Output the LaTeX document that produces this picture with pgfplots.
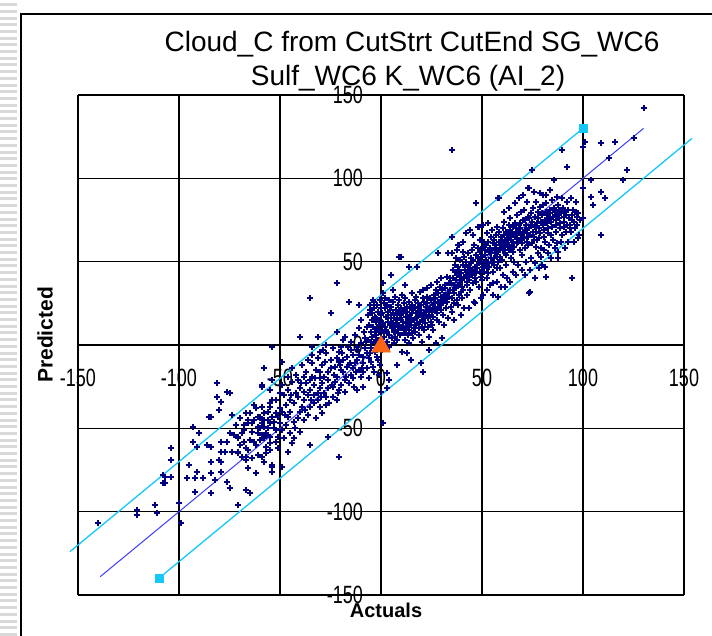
\documentclass[border=0pt]{standalone}
\usepackage{pgfplots}
\pgfplotsset{compat=1.18}
\usepackage{fontspec}
\setmainfont{Liberation Sans}
\newfontfamily\tickfont[FakeStretch=0.72]{Liberation Sans}
\definecolor{navy}{RGB}{0,0,128}
\definecolor{lineblue}{RGB}{60,60,255}
\definecolor{cyanl}{RGB}{20,200,250}
\definecolor{orng}{RGB}{250,100,20}
\begin{document}
\begin{tikzpicture}
\useasboundingbox (0,0) rectangle (712pt,636pt);
\fill[white] (0,0) rectangle (712pt,636pt);
\foreach \i in {0,...,95} {\fill[black!15] (0,\i*6.7pt) rectangle (17pt,\i*6.7pt+3pt);}
\draw[line width=1.2pt] (21pt,0) -- (21pt,622pt) -- (712pt,622pt);
\begin{axis}[
  at={(78pt,41pt)}, anchor=south west,
  scale only axis, width=606pt, height=500pt,
  xmin=-150,xmax=150,ymin=-150,ymax=150,
  axis lines=middle, axis line style={-, black, line width=1.6pt},
  xtick={-150,-100,-50,0,50,100,150}, ytick={-150,-100,-50,0,50,100,150},
  xticklabels={-150,-100,-50,0,50,100,150},
  yticklabels={-150,-100,-50,0,50,100,150},
  hide obscured x ticks=false, hide obscured y ticks=false,
  major tick length=0pt,
  grid=major, major grid style={black, line width=1.6pt},
  ticklabel style={font=\tickfont\fontsize{25pt}{25pt}\selectfont, inner sep=0pt},
  xticklabel style={anchor=center, yshift=-33pt},
  yticklabel style={anchor=east, xshift=-18pt},
  clip=false,
]
\addplot[only marks, mark=+, mark size=3pt, color=navy, mark options={line width=2pt}] coordinates {
(-140,-107)(-121,-102)(-121,-99)(-112,-96)(-111,-101)(-100,-95)(-99,-107)(-104,-62)(-104,-69)(-107,-79)(-104,-79)(-107,-83)(-93,-49)(-90,-53)(-93,-58)(-91,-61)(-95,-72)(-96,-80)(-92,-80)(-91,-76)(-92,-88)(-88,-80)(-86,-60)(-84,-61)(-84,-70)(-84,-77)(-84,-89)(-82,-81)(-84,-43)(-81,-23)(-81,-31)(-79,-34)(-80,-39)(-76,-28)(-75,-29)(-79,-58)(-79,-64)(-77,-64)(-80,-69)(-79,-70)(-79,-76)(-76,-58)(-74,-64)(-76,-82)(-75,-86)(-75,-53)(-73,-54)(-71,-55)(-71,-56)(-69,-53)(-71,-96)(-67,-62)(-67,-69)(-66,-74)(-67,-87)(-65,-89)(-67,-41)(-65,-41)(-66,-45)(-64,-47)(-64,-52)(-63,-58)(-61,-43)(-59,-47)(-60,-50)(-59,-67)(-58,-70)(-54,-72)(-54,-76)(-57,-53)(-57,-54)(-55,-55)(-55,-47)(-54,-43)(-59,-37)(-55,-35)(-59,-25)(-55,-27)(-52,-33)(-52,-51)(-52,-58)(-58,-41)(-71,-64)(-69,-67)(-85,-43)(-108,-78)(-108,-83)
(-62,-38)(-60,-44)(-56,-40)(-53,-46)(-58,-56)(-61,-49)(-68,-48)(-70,-44)(-63,-36)(-57,-61)
(-22,37)(-35,28)(-16,26)(-11,24)(-25,19)(-4,27)(1,37)(1,31)(-40,5)(-31,5)(-22,8)(-18,5)(-27,0)(-54,-1)(-34,-1)(-30,-4)(-34,-6)(-36,-9)(-21,-4)(-22,-8)(-19,-9)(-14,-6)(-16,-12)(-12,-9)(-7,-5)(-9,-7)(-3,-4)(-5,-10)(-11,-15)(3,-17)(4,-21)(3,-26)(0,-28)(1,-47)(-21,-67)(-26,-55)(-35,-60)(-40,-52)(-41,-44)(-49,-10)(-58,-14)(-59,-24)(-49,-24)(-44,-14)(-41,-21)(-38,-19)(-34,-19)(-30,-16)(-30,-20)(-29,-23)(-25,-14)(-26,-21)(-24,-25)(-22,-19)(-20,-15)(-18,-21)(-15,-18)(-14,-14)(-9,-16)(-9,-25)(-35,-27)(-33,-30)(-31,-29)(-38,-28)(-42,-29)(-39,-37)(-35,-37)(-31,-33)(-27,-31)(-21,-27)(-29,-41)(-45,-33)(-50,-38)(-49,-40)(-51,-43)(-46,-43)(-54,-33)(-55,-37)(-56,-45)(-60,-43)(-58,-49)(-61,-53)(-66,-47)(-68,-51)(-71,-55)(-65,-57)(-59,-54)(-51,-55)(-49,-51)(-55,-63)(-58,-70)(-62,-77)(-71,-65)(-67,-67)(-46,-64)(-49,-73)(-54,-73)(-59,-25)(-54,-21)
(-48,-30)(-47,-36)(-46,-27)(-45,-40)(-44,-22)(-43,-35)(-43,-46)(-42,-18)(-41,-31)(-40,-40)(-40,-26)(-39,-12)(-38,-33)(-38,-45)(-37,-23)(-37,-16)(-36,-30)(-36,-42)(-35,-21)(-34,-11)(-33,-35)(-33,-24)(-32,-15)(-32,-44)(-31,-8)(-30,-26)(-30,-37)(-29,-12)(-28,-19)(-28,-29)(-27,-5)(-27,-36)(-26,-16)(-26,-26)(-25,-9)(-24,-31)(-24,-2)(-23,-13)(-23,-22)(-22,-33)(-21,-10)(-20,-1)(-20,-24)(-19,-16)(-19,3)(-18,-28)(-17,-7)(-17,-13)(-16,-23)(-15,-3)(-15,2)(-14,-20)(-13,-11)(-13,6)(-12,-27)(-12,-1)(-11,-6)(-11,10)(-10,-19)(-10,1)(-10,15)(-9,-11)(-8,4)(-8,-2)(-7,-14)(-7,11)(-6,-8)(-6,-20)(-5,2)(-4,-13)(-3,8)(-2,-7)(-1,-18)
(-47.5,-42)(-44.5,-30)(-42.5,-50)(-39.5,-23)(-37.5,-39)(-34.5,-33)(-32.5,-20)(-29.5,-31)(-27.5,-10)(-25.5,-35)(-23.5,-18)(-21.5,-29)(-19.5,-5)(-17.5,-19)(-15.5,-11)(-13.5,-25)(-11.5,-3)(-9.5,-14)(-7.5,2)(-5.5,-5)(-3.5,-16)(-2.5,3)(-1.5,-9)(-0.5,-12)(-8.5,8)(-12.5,-16)(-16.5,-1)(-20.5,-12)(-24.5,-24)(-28.5,-3)
(-74,-42)(-72,-48)(-70,-60)(-68,-58)(-66,-63)(-64,-68)(-63,-45)(-62,-60)(-61,-66)(-60,-57)(-58,-45)(-57,-65)(-56,-50)(-55,-59)(-53,-50)(-52,-41)(-51,-62)(-50,-47)(-50,-29)(-48,-56)(-47,-48)(-46,-19)(-45,-53)(-44,-59)(-43,-56)
(-6.2,3)(-5.8,12)(-6.5,18)(-5.6,24)(-5.1,8)(-4.7,15)(-5.4,21)(-4.9,-2)(-4.3,5)(-3.8,11)(-4.6,19)(-3.6,26)(-3.2,1)(-2.7,14)(-3.5,22)(-2.9,17)(-2.4,6)(-1.8,10)(-2.1,24)(-1.6,3)(-2.6,16)(-1.2,12)(-0.7,2)(-1.4,20)(-0.9,8)(-0.5,27)
(0.2,4)(-0.3,15)(0.6,9)(0.1,22)(0.4,-3)(-0.2,18)(1.3,7)(0.8,13)(1.5,25)(1.1,0)(0.7,19)(2.2,11)(1.7,5)(2.6,17)(1.9,28)(2.4,9)(2.0,22)(3.3,14)(2.8,2)(3.6,20)(3.1,8)(2.9,24)(4.1,6)(3.7,16)(4.5,12)(4.2,27)(3.9,-1)(4.6,21)(5.2,10)(4.8,18)(5.5,4)(5.1,23)(4.9,14)(6.3,8)(5.7,13)(6.1,26)(6.6,1)(5.9,19)(6.4,16)(7.2,15)(6.8,5)(7.5,21)(7.1,11)(6.9,29)(8.4,9)(7.7,18)(8.1,3)(8.6,24)(7.9,13)(8.3,7)(9.1,12)(8.8,20)(9.5,6)(9.2,16)(8.9,27)
(10.3,10)(9.7,22)(10.1,15)(10.6,-4)(9.9,18)(10.4,30)(11.2,7)(10.8,14)(11.5,25)(11.1,19)(10.9,11)(12.4,17)(11.7,3)(12.1,21)(12.6,9)(11.9,28)(12.3,13)(13.1,11)(12.8,23)(13.5,16)(13.2,6)(12.9,20)(14.3,14)(13.7,26)(14.1,9)(14.6,18)(13.9,1)(14.4,22)(15.2,19)(14.8,12)(15.5,24)(15.1,7)(14.9,16)(15.3,31)(16.4,10)(15.7,21)(16.1,15)(16.6,27)(15.9,4)(17.1,16)(16.8,23)(17.5,12)(17.2,19)(16.9,8)(17.4,29)(18.3,20)(17.7,13)(18.1,25)(18.6,6)(17.9,17)(19.2,14)(18.8,22)(19.5,18)(19.1,32)(18.9,10)
(20.4,17)(19.7,24)(20.1,11)(20.6,28)(19.9,21)(20.3,2)(21.1,19)(20.8,15)(21.5,26)(21.2,9)(20.9,33)(22.3,23)(21.7,13)(22.1,20)(22.6,29)(21.9,17)(23.2,16)(22.8,25)(23.5,21)(23.1,11)(22.9,34)(24.4,22)(23.7,18)(24.1,28)(24.6,14)(23.9,5)(25.1,20)(24.8,27)(25.5,24)(25.2,12)(24.9,36)(26.3,25)(25.7,17)(26.1,30)(26.6,22)(25.9,9)(27.2,21)(26.8,28)(27.5,15)(27.1,33)(28.4,26)(27.7,19)(28.1,31)(28.6,23)(27.9,38)(29.1,24)(28.8,14)(29.5,29)(29.2,35)
(30.3,27)(29.7,21)(30.1,33)(30.6,18)(29.9,40)(31.2,30)(30.8,25)(31.5,36)(31.1,12)(32.4,28)(31.7,34)(32.1,22)(32.6,41)(33.1,31)(32.8,26)(33.5,37)(33.2,16)(34.3,33)(33.7,29)(34.1,40)(34.6,23)
(35.2,28)(34.8,37)(35.5,45)(35.1,20)(34.9,55)(35.4,33)(36.3,31)(35.7,40)(36.1,25)(36.6,48)(35.9,36)(37.2,34)(36.8,44)(37.5,27)(37.1,52)(36.9,39)(38.4,30)(37.7,42)(38.1,36)(38.6,60)(37.9,24)(38.3,47)(39.1,37)(38.8,45)(39.5,32)(39.2,51)(38.9,41)
(40.3,35)(39.7,43)(40.1,28)(40.6,56)(39.9,39)(40.4,48)(41.2,40)(40.8,33)(41.5,47)(41.1,53)(40.9,22)(42.4,38)(41.7,45)(42.1,67)(42.6,30)(41.9,50)(42.3,42)(43.1,41)(42.8,36)(43.5,48)(43.2,55)(42.9,44)(44.3,69)(43.7,39)(44.1,46)(44.6,52)(43.9,33)(44.4,43)(45.2,42)(44.8,49)(45.5,37)(45.1,57)(44.9,45)(46.4,44)(45.7,51)(46.1,26)(46.6,40)(45.9,60)(46.3,47)(47.1,85)(46.8,43)(47.5,48)(47.2,54)(46.9,38)(48.3,71)(47.7,46)(48.1,52)(48.6,35)(47.9,58)(48.4,49)(49.2,44)(48.8,50)(49.5,41)(49.1,56)(48.9,63)
(36.2,15)(39.8,18)(43.4,22)(46.7,25)(49.6,28)(52.7,33)(55.3,37)(45.4,66)(50.7,72)(40.7,62)(37.8,57)
(50.4,47)(49.7,53)(50.1,39)(50.6,59)(49.9,45)(50.3,30)(51.1,50)(50.8,44)(51.5,57)(51.2,62)(50.9,48)(52.3,46)(51.7,54)(52.1,60)(52.6,40)(51.9,51)(52.4,67)(53.2,73)(52.8,49)(53.5,56)(53.1,43)(52.9,62)(54.4,52)(53.7,47)(54.1,58)(54.6,65)(53.9,36)(54.3,55)(55.1,50)(54.8,57)(55.5,61)(55.2,44)(54.9,69)(56.3,55)(55.7,48)(56.1,63)(56.6,58)(55.9,52)(57.2,53)(56.8,60)(57.5,46)(57.1,66)(56.9,57)(57.4,71)(58.4,88)(57.7,29)(58.1,56)(58.6,62)(57.9,50)(58.3,68)(59.1,58)(58.8,53)(59.5,65)(59.2,61)(58.9,46)
(60.3,57)(59.7,63)(60.1,51)(60.6,70)(59.9,60)(60.4,42)(61.2,59)(60.8,66)(61.5,55)(61.1,74)(60.9,62)(62.4,61)(61.7,54)(62.1,68)(62.6,64)(61.9,48)(63.1,60)(62.8,66)(63.5,57)(63.2,72)(62.9,63)(64.3,63)(63.7,58)(64.1,69)(64.6,52)(63.9,76)(64.4,65)(65.2,62)(64.8,67)(65.5,56)(65.1,71)(64.9,60)(66.4,65)(65.7,59)(66.1,73)(66.6,68)(65.9,50)(67.1,64)(66.8,70)(67.5,61)(67.2,78)(66.9,66)(68.3,67)(67.7,62)(68.1,72)(68.6,57)(67.9,69)(69.2,66)(68.8,73)(69.5,63)(69.1,80)(68.9,70)(70.4,68)(69.7,61)(70.1,75)(70.6,65)(69.9,54)
(55.6,30)(57.3,38)(59.4,35)(60.9,80)(62.2,40)(63.6,82)(65.4,44)(66.2,85)(67.8,48)(68.4,88)(69.6,45)(70.3,90)(71.8,50)(72.4,86)(74.2,52)(75.8,92)(76.4,49)(77.8,55)(78.9,91)(79.4,53)(80.9,57)(81.4,47)(82.9,55)(83.9,93)(84.4,52)(85.9,58)(86.9,89)(87.4,56)(88.9,62)(89.4,88)(90.9,58)(91.9,86)(92.6,62)(93.9,88)(95.4,62)(96.6,86)(97.5,64)(98.2,66)(71.4,42)(73.8,45)(76.1,40)(78.3,46)(81.9,41)(61.5,35)(64.1,38)(66.9,42)
(71.2,69)(70.8,64)(71.5,75)(71.1,58)(70.9,81)(72.3,67)(71.7,72)(72.1,62)(72.6,77)(73.2,70)(72.8,65)(73.5,31)(73.1,76)(72.9,60)(73.4,94)(74.4,72)(73.7,66)(74.1,79)(74.6,61)(73.9,32)(75.1,68)(74.8,74)(75.5,63)(75.2,82)(74.9,105)(76.3,71)(75.7,65)(76.1,77)(76.6,59)(77.2,73)(76.8,68)(77.5,80)(77.1,63)(76.9,86)(78.4,70)(77.7,76)(78.1,64)(78.6,83)(79.1,74)(78.8,67)(79.5,79)(79.2,58)
(80.3,72)(79.7,78)(80.1,90)(80.6,65)(79.9,48)(80.4,84)(81.2,75)(80.8,69)(81.5,80)(81.1,62)(82.4,73)(81.7,90)(82.1,78)(82.6,67)(81.9,85)(83.1,76)(82.8,70)(83.5,81)(83.2,60)(84.3,74)(83.7,79)(84.1,66)(84.6,87)(85.2,77)(84.8,71)(85.5,82)(85.1,63)(86.4,75)(85.7,99)(86.1,80)(86.6,68)(87.1,78)(86.8,72)(87.5,84)(87.2,61)(88.3,76)(87.7,52)(88.1,81)(88.6,70)(89.2,79)(88.8,73)(89.5,66)
(90.4,77)(89.7,117)(90.1,82)(90.6,71)(91.1,80)(90.8,74)(91.5,68)(92.3,107)(91.7,78)(92.1,72)(93.2,76)(92.8,81)(93.5,70)(94.4,40)(93.7,72)(94.1,68)(94.6,78)(95.1,81)(94.8,75)(96.3,80)(95.7,74)(96.1,70)(97.2,77)(96.8,72)(98.4,75)(97.7,79)
(130,142)(125,124)(116,122)(109,121)(101,122)(100,119)(113,112)(122,105)(120,99)(104,99)(100,94)(109,92)(104,89)(111,88)(105,84)(100,76)(109,66)(96,80)(58,88)(73,94)(35,117)(5,42)(9,53)(10,53)(14,47)(18,47)(13,-5)(20,-11)(21,-16)(27,1)(15,-9)(8,-12)(24,-3)(30,4)(12,36)(6,33)(33,55)(28,55)(35,65)(38,60)(42,67)(44,69)(48,71)(53,73)(58,29)
};
\addplot[lineblue, line width=1pt] coordinates {(-139,-139)(130,130)};
\addplot[cyanl, line width=1.3pt] coordinates {(-154,-124)(100,130)};
\addplot[cyanl, line width=1.3pt] coordinates {(-110,-140)(154,124)};
\addplot[only marks, mark=square*, mark size=4pt, color=cyanl] coordinates {(100,130)(-110,-140)};
\addplot[only marks, mark=triangle*, mark size=11pt, color=orng] coordinates {(0,-1)};
\end{axis}
\node[anchor=base, font=\fontsize{28pt}{30pt}\selectfont] at (412pt,584pt) {Cloud\_C from CutStrt CutEnd SG\_WC6};
\node[anchor=base, font=\fontsize{28pt}{30pt}\selectfont] at (408pt,550pt) {Sulf\_WC6 K\_WC6 (AI\_2)};
\node[rotate=90, font=\bfseries\fontsize{21pt}{21pt}\selectfont] at (45pt,301pt) {Predicted};
\node[font=\bfseries\fontsize{20pt}{20pt}\selectfont] at (386pt,26pt) {Actuals};
\end{tikzpicture}
\end{document}
